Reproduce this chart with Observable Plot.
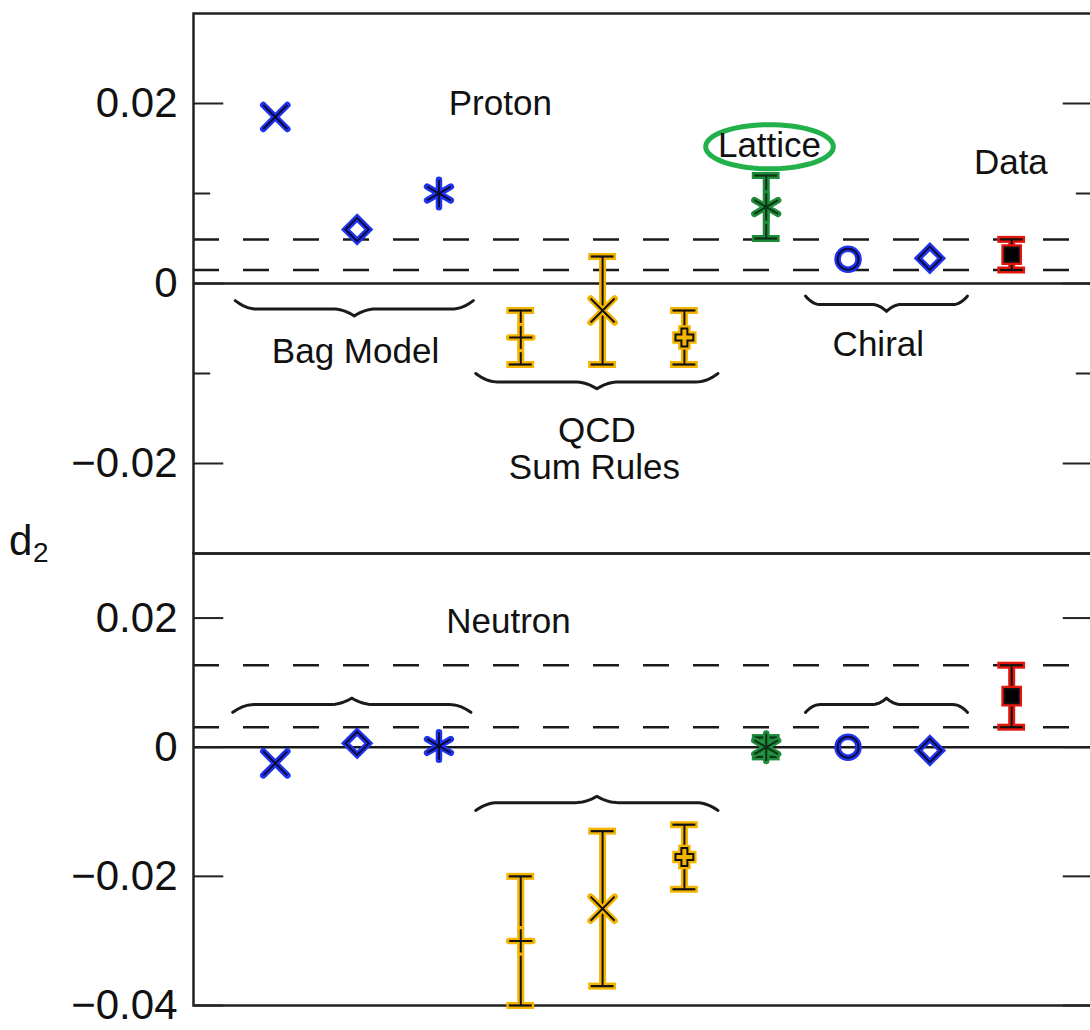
<!DOCTYPE html>
<html><head><meta charset="utf-8">
<script src="https://cdn.jsdelivr.net/npm/d3@7"></script>
<script src="https://cdn.jsdelivr.net/npm/@observablehq/plot@0.6"></script>
<style>
html,body{margin:0;padding:0;overflow:hidden;background:#fff;}
#wrap{position:relative;width:1090px;height:1030px;overflow:hidden;background:#fff;}
#top,#bottom{position:absolute;left:0;}
#top{top:0;} #bottom{top:553px;}
#ylab{position:absolute;left:0;top:0;}
</style></head><body>
<div id="wrap"><div id="top"></div><div id="bottom"></div>
<svg id="ylab" width="70" height="1030"><text x="9" y="555" font-family="Liberation Sans, Arial, sans-serif" font-size="42" fill="#111">d</text><text x="33" y="562" font-family="Liberation Sans, Arial, sans-serif" font-size="28" fill="#111">2</text></svg>
</div>
<script>
// ---------- data ----------
const positions = [1, 2, 3, 4, 5, 6, 7, 8, 9, 10];
const models = ["Bag Model", "Bag Model", "Bag Model", "QCD Sum Rules", "QCD Sum Rules", "QCD Sum Rules", "Lattice", "Chiral", "Chiral", "Data"];
const symbols = ["times", "diamond2", "asterisk", "plus", "times", "cross", "asterisk", "circle", "diamond2", "square"];
const protonD2 = [0.0185, 0.0060, 0.0100, -0.0060, -0.0030, -0.0060, 0.0085, 0.0027, 0.0028, 0.0032];
const protonErr = [0, 0, 0, 0.0030, 0.0060, 0.0030, 0.0035, 0, 0, 0.0017];
const neutronD2 = [-0.0025, 0.0006, 0.0002, -0.0300, -0.0250, -0.0170, 0.0000, 0.0000, -0.0005, 0.0079];
const neutronErr = [0, 0, 0, 0.0100, 0.0120, 0.0050, 0.0015, 0, 0, 0.0048];
const protonTicks = [-0.02, 0, 0.02];
const protonMinorTicks = [-0.01, 0.01];
const neutronTicks = [-0.04, -0.02, 0, 0.02];
const protonLabels = [
  {text: "Proton", x: 3.75, y: 0.0200},
  {text: "Lattice", x: 7.04, y: 0.0153},
  {text: "Data", x: 9.99, y: 0.0134},
  {text: "Bag Model", x: 1.98, y: -0.0076},
  {text: "Chiral", x: 8.37, y: -0.0068},
  {text: "QCD", x: 4.93, y: -0.0164},
  {text: "Sum Rules", x: 4.90, y: -0.0205}
];
const neutronLabels = [{text: "Neutron", x: 3.85, y: 0.0195}];
const protonBraces = [
  {model: "Bag Model", from: 0.51, to: 3.42, y: -0.0019},
  {model: "QCD Sum Rules", from: 3.45, to: 6.41, y: -0.0100},
  {model: "Chiral", from: 7.48, to: 9.46, y: -0.0014}
];
const neutronBraces = [
  {model: "Bag Model", from: 0.48, to: 3.39, y: 0.0054},
  {model: "QCD Sum Rules", from: 3.45, to: 6.41, y: -0.0098},
  {model: "Chiral", from: 7.48, to: 9.46, y: 0.0054}
];
const latticeRing = {x: 7.04, y: 0.0152, rx: 0.78, ry: 0.00245};

// ---------- styles ----------
const halo = {"Bag Model": "#1f34ee", "QCD Sum Rules": "#f4b400", "Lattice": "#1f8c3b", "Chiral": "#1f34ee", "Data": "#e3170e"};
const core = {"Bag Model": "#0a0a3c", "QCD Sum Rules": "#111", "Lattice": "#0c3317", "Chiral": "#0a0a3c", "Data": "#111"};
const symSize = {times: 11, diamond2: 10.5, asterisk: 13, plus: 7.5, cross: 7.5, circle: 10.5, square: 8};
const FONT = "Liberation Sans, Arial, Helvetica, sans-serif";
const fmt = d => d === 0 ? "0" : d3.format(".2f")(d);

function bracePoints(b, h) {
  const pts = [];
  const n = 100;
  for (let i = 0; i <= n; i++) {
    const t = i / n;
    const u = t <= 0.5 ? t : 1 - t;
    const a = Math.min(u / 0.09, 1);
    const f = 0.55 * (1 - (1 - a) * (1 - a)) + 0.45 * Math.pow(Math.max(0, (u - 0.41) / 0.09), 2);
    pts.push({x: b.from + (b.to - b.from) * t, y: b.y + h * f, id: b.model});
  }
  return pts;
}

function panel(o) {
  const rows = positions.map((p, i) => ({x: p, v: o.values[i], e: o.errors[i], model: models[i], symbol: symbols[i]}));
  const withErr = rows.filter(d => d.e > 0);
  const data = rows[rows.length - 1];
  const band = [data.v + data.e, data.v - data.e];
  const braces = o.braces.flatMap(b => bracePoints(b, o.braceH));
  const marks = [
    Plot.ruleY(band, {stroke: "#1a1a1a", strokeWidth: 2.5, strokeDasharray: "26,24"}),
    Plot.ruleY([0], {stroke: "#1a1a1a", strokeWidth: 2.5}),
    Plot.ruleY(o.ticks, {x1: 0, x2: 0.37, stroke: "#222", strokeWidth: 2}),
    Plot.ruleY(o.ticks, {x1: 11 - 0.37, x2: 11, stroke: "#222", strokeWidth: 2}),
    Plot.ruleY(o.minor, {x1: 0, x2: 0.21, stroke: "#222", strokeWidth: 2}),
    Plot.ruleY(o.minor, {x1: 11 - 0.21, x2: 11, stroke: "#222", strokeWidth: 2}),
    Plot.frame({stroke: "#222", strokeWidth: 2.5}),
    Plot.line(braces, {x: "x", y: "y", z: "id", stroke: "#1a1a1a", strokeWidth: 3, strokeLinecap: "round"}),
    // error bars: halo then core
    Plot.ruleX(withErr, {x: "x", y1: d => d.v - d.e, y2: d => d.v + d.e, stroke: d => halo[d.model], strokeWidth: 7}),
    Plot.ruleY(withErr, {y: d => d.v + d.e, x1: d => d.x - 0.17, x2: d => d.x + 0.17, stroke: d => halo[d.model], strokeWidth: 7}),
    Plot.ruleY(withErr, {y: d => d.v - d.e, x1: d => d.x - 0.17, x2: d => d.x + 0.17, stroke: d => halo[d.model], strokeWidth: 7}),
    Plot.ruleX(withErr, {x: "x", y1: d => d.v - d.e, y2: d => d.v + d.e, stroke: d => core[d.model], strokeWidth: 2}),
    Plot.ruleY(withErr, {y: d => d.v + d.e, x1: d => d.x - 0.14, x2: d => d.x + 0.14, stroke: d => core[d.model], strokeWidth: 2.2}),
    Plot.ruleY(withErr, {y: d => d.v - d.e, x1: d => d.x - 0.14, x2: d => d.x + 0.14, stroke: d => core[d.model], strokeWidth: 2.2})
  ];
  for (const s of Object.keys(symSize)) {
    const sub = rows.filter(d => d.symbol === s);
    if (!sub.length) continue;
    marks.push(Plot.dot(sub, {x: "x", y: "v", symbol: s, r: symSize[s], stroke: d => halo[d.model], strokeWidth: 6.5, strokeLinecap: "round", fill: s === "square" ? (d => halo[d.model]) : "none"}));
    marks.push(Plot.dot(sub, {x: "x", y: "v", symbol: s, r: symSize[s], stroke: d => core[d.model], strokeWidth: 2, fill: s === "square" ? "#000" : "none"}));
  }
  if (o.ring) {
    const r = o.ring;
    const pts = d3.range(0, 73).map(k => ({x: r.x + r.rx * Math.cos(k / 72 * 2 * Math.PI), y: r.y + r.ry * Math.sin(k / 72 * 2 * Math.PI)}));
    marks.push(Plot.line(pts, {x: "x", y: "y", stroke: "#22b04a", strokeWidth: 5, curve: "linear"}));
  }
  marks.push(Plot.text(o.labels, {x: "x", y: "y", text: "text", fontSize: 35, fill: "#111", textAnchor: "middle", lineAnchor: "middle"}));
  return Plot.plot({
    width: 1093,
    height: o.height,
    marginLeft: 193,
    marginRight: 0,
    marginTop: o.marginTop,
    marginBottom: o.marginBottom,
    x: {domain: [0, 11], axis: null},
    y: {domain: o.domain, ticks: o.ticks, tickFormat: fmt, tickSize: 0, tickPadding: 16, label: null},
    style: {fontFamily: FONT, fontSize: "42px", color: "#111", background: "transparent", maxWidth: "none", overflow: "visible"},
    marks
  });
}

document.getElementById("top").append(panel({
  values: protonD2, errors: protonErr, domain: [-0.03, 0.03], height: 553, marginTop: 13, marginBottom: 0,
  ticks: protonTicks, minor: protonMinorTicks, braces: protonBraces, braceH: -0.0017, labels: protonLabels, ring: latticeRing
}));
document.getElementById("bottom").append(panel({
  values: neutronD2, errors: neutronErr, domain: [-0.04, 0.03], height: 477, marginTop: 0, marginBottom: 25,
  ticks: neutronTicks, minor: [], braces: neutronBraces, braceH: 0.0022, labels: neutronLabels, ring: null
}));
</script>
</body></html>
